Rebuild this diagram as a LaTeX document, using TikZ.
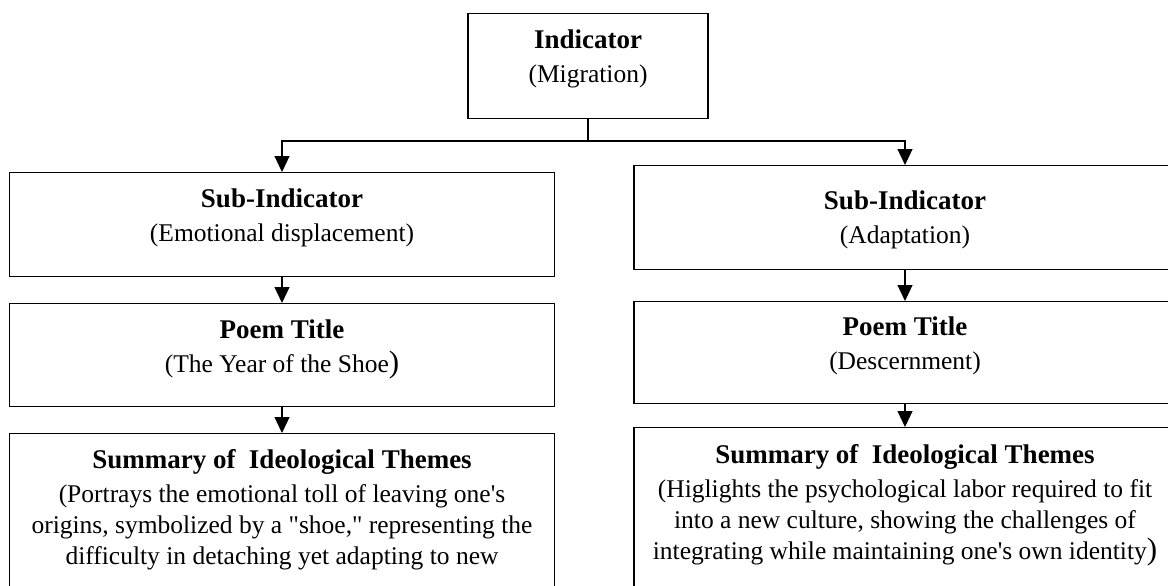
\documentclass[tikz,border=0pt]{standalone}
\usepackage{fontspec}
\setmainfont{Liberation Serif}
\usetikzlibrary{arrows.meta,positioning}
\tikzset{
  box/.style={draw, line width=1.1pt, inner sep=0pt, anchor=north},
  boxtext/.style={align=center, inner sep=0pt, font=\fontsize{25.5}{31}\selectfont},
  arr/.style={line width=1.2pt, -{Triangle[width=15pt,length=16pt]}},
}
\newcommand{\hd}[1]{{\fontsize{27}{31}\selectfont\bfseries #1}}
\newcommand{\bigparen}{{\fontsize{31}{31}\selectfont )}}

\begin{document}
\begin{tikzpicture}[x=1pt,y=-1pt]
\useasboundingbox (0,0) rectangle (1168,586);
\clip (0,0) rectangle (1168,586);
% boxes
\node[box, minimum width=240pt, minimum height=105pt] (ind) at (588,13) {};
\node[box, minimum width=545pt, minimum height=104pt] (subL) at (282,172) {};
\node[box, minimum width=545pt, minimum height=103pt] (poemL) at (282,303) {};
\node[box, minimum width=545pt, minimum height=200pt] (sumL) at (282,433) {};
\node[box, minimum width=542pt, minimum height=104pt] (subR) at (905,165) {};
\node[box, minimum width=542pt, minimum height=102pt] (poemR) at (905,301) {};
\node[box, minimum width=542pt, minimum height=200pt] (sumR) at (905,427) {};
% texts
\node[boxtext, below=16.6pt of ind.north] (indT) {\hd{Indicator}\\[3pt](Migration)};
\node[boxtext, below=16.6pt of subL.north] (subLT) {\hd{Sub-Indicator}\\[3pt](Emotional displacement)};
\node[boxtext, below=16.6pt of poemL.north] (poemLT) {\hd{Poem Title}\\[3pt](The Year of the Shoe\bigparen};
\node[boxtext, below=16.6pt of sumL.north] (sumLT) {\hd{Summary of \ Ideological Themes}\\[3pt]
  (Portrays the emotional toll of leaving one\textquotesingle s\\
  origins, symbolized by a \textquotedbl shoe,\textquotedbl{} representing the\\
  difficulty in detaching yet adapting to new};
\node[boxtext, below=25.6pt of subR.north] (subRT) {\hd{Sub-Indicator}\\[3pt](Adaptation)};
\node[boxtext, below=15.6pt of poemR.north] (poemRT) {\hd{Poem Title}\\[3pt](Descernment)};
\node[boxtext, below=17.6pt of sumR.north] (sumRT) {\hd{Summary of \ Ideological Themes}\\[3pt]
  (Higlights the psychological labor required to fit\\
  into a new culture, showing the challenges of\\
  integrating while maintaining one\textquotesingle s own identity\bigparen};
% connectors
\coordinate (split) at (588,141);
\draw[line width=1.2pt] (ind.south) -- (split);
\draw[arr] (split) -| (subL.north);
\draw[arr] (split) -| (subR.north);
\draw[arr] (subL.south) -- (poemL.north);
\draw[arr] (poemL.south) -- (sumL.north);
\draw[arr] (subR.south) -- (poemR.north);
\draw[arr] (poemR.south) -- (sumR.north);
\end{tikzpicture}
\end{document}
